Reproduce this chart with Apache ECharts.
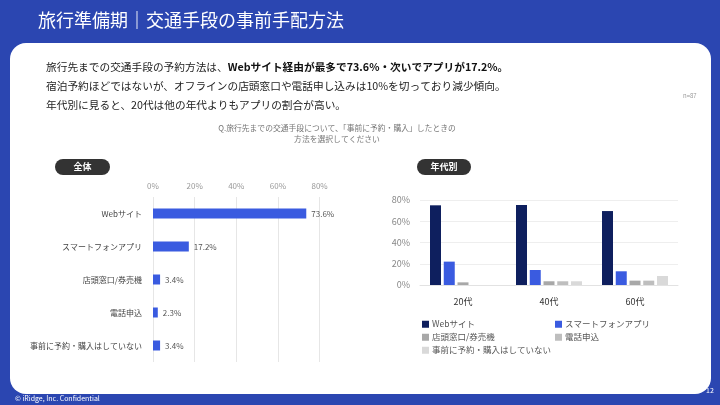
<!DOCTYPE html>
<html><head><meta charset="utf-8">
<script src="https://cdn.jsdelivr.net/npm/echarts@6/dist/echarts.min.js"></script>
<style>html,body{margin:0;padding:0;background:#2B46B1}#c{width:720px;height:405px}</style>
</head><body><div id="c"></div>
<script>
// ---- data ----
const overallCategories = ['Webサイト', 'スマートフォンアプリ', '店頭窓口/券売機', '電話申込', '事前に予約・購入はしていない'];
const overallValues = [73.6, 17.2, 3.4, 2.3, 3.4];
const overallTicks = [0, 20, 40, 60, 80];
const ageCategories = ['20代', '40代', '60代'];
const ageSeriesNames = ['Webサイト', 'スマートフォンアプリ', '店頭窓口/券売機', '電話申込', '事前に予約・購入はしていない'];
const ageWeb = [75.0, 75.3, 69.6];
const ageApp = [22.0, 14.1, 12.9];
const ageShop = [2.5, 3.5, 4.1];
const agePhone = [0, 3.5, 4.1];
const ageNone = [0, 3.5, 8.5];
const ageTicks = [0, 20, 40, 60, 80];

const FONT = '"Noto Sans CJK JP", "Noto Sans", sans-serif';
const ageColors = ['#0E1F5E', '#3A5BE0', '#A8A8A8', '#BEBEBE', '#D9D9D9'];
const ageData = [ageWeb, ageApp, ageShop, agePhone, ageNone];

const chart = echarts.init(document.getElementById('c'));

const legendPos = [[422, 320], [555, 320], [422, 333], [555, 333], [422, 346]];
const legends = ageSeriesNames.map((n, i) => ({
  data: [n], left: legendPos[i][0], top: legendPos[i][1],
  icon: 'rect', itemWidth: 7, itemHeight: 7, itemGap: 4,
  textStyle: {fontSize: 8.5, color: '#555', fontFamily: FONT, padding: [0, 0, 0, -2]},
  padding: 0, selectedMode: false
}));

const option = {
  backgroundColor: '#2B46B1',
  animation: false,
  textStyle: {fontFamily: FONT},
  graphic: [
    {type: 'rect', shape: {x: 10, y: 43, width: 701, height: 351, r: 16}, style: {fill: '#fff'}, z: -10},
    {type: 'text', left: 38, top: 11, style: {text: '旅行準備期｜交通手段の事前手配方法', fill: '#fff', font: '18px ' + FONT}},
    {type: 'text', left: 46, top: 62, style: {
      text: '{n|旅行先までの交通手段の予約方法は、}{b|Webサイト経由が最多で73.6%・次いでアプリが17.2%。}',
      rich: {n: {fontSize: 10.7, fill: '#222', fontFamily: FONT}, b: {fontSize: 10.7, fill: '#111', fontWeight: 'bold', fontFamily: FONT}}
    }},
    {type: 'text', left: 46, top: 81, style: {text: '宿泊予約ほどではないが、オフラインの店頭窓口や電話申し込みは10%を切っており減少傾向。', fill: '#222', font: '10.7px ' + FONT}},
    {type: 'text', left: 46, top: 100, style: {text: '年代別に見ると、20代は他の年代よりもアプリの割合が高い。', fill: '#222', font: '10.7px ' + FONT}},
    {type: 'text', left: 683, top: 93, style: {text: 'n=87', fill: '#999', font: '6px ' + FONT}},
    {type: 'text', x: 337, y: 123, style: {text: 'Q.旅行先までの交通手段について、「事前に予約・購入」したときの\n方法を選択してください', fill: '#777', font: '7.8px ' + FONT, align: 'center', lineHeight: 10.5}},
    {type: 'rect', shape: {x: 55, y: 159, width: 55, height: 16, r: 8}, style: {fill: '#333'}},
    {type: 'text', x: 82.5, y: 167, style: {text: '全体', fill: '#fff', font: 'bold 9px ' + FONT, align: 'center', verticalAlign: 'middle'}},
    {type: 'rect', shape: {x: 417, y: 159, width: 54, height: 16, r: 8}, style: {fill: '#333'}},
    {type: 'text', x: 444, y: 167, style: {text: '年代別', fill: '#fff', font: 'bold 9px ' + FONT, align: 'center', verticalAlign: 'middle'}},
    {type: 'text', left: 15, top: 395, style: {text: '© iRidge, Inc. Confidential', fill: '#fff', font: '7px ' + FONT}},
    {type: 'text', left: 706, top: 387, style: {text: '12', fill: '#fff', font: '7px ' + FONT}}
  ],
  legend: legends,
  grid: [
    {left: 153, top: 197, width: 166.6, height: 165},
    {left: 420, top: 200, width: 258, height: 85}
  ],
  xAxis: [
    {gridIndex: 0, type: 'value', position: 'top', min: overallTicks[0], max: overallTicks[overallTicks.length - 1], interval: 20,
     axisLabel: {formatter: '{value}%', fontSize: 8, color: '#999', margin: 7},
     axisLine: {show: false}, axisTick: {show: false},
     splitLine: {lineStyle: {color: '#E6E6E6'}}},
    {gridIndex: 1, type: 'category', data: ageCategories,
     axisLabel: {fontSize: 9, color: '#333', margin: 12},
     axisLine: {lineStyle: {color: '#E2E2E2'}}, axisTick: {show: false}}
  ],
  yAxis: [
    {gridIndex: 0, type: 'category', data: overallCategories, inverse: true,
     axisLabel: {fontSize: 8, color: '#444', margin: 11},
     axisLine: {show: false}, axisTick: {show: false}},
    {gridIndex: 1, type: 'value', min: ageTicks[0], max: ageTicks[ageTicks.length - 1], interval: 20,
     axisLabel: {formatter: '{value}%', fontSize: 9, color: '#888', margin: 10},
     axisLine: {show: false}, axisTick: {show: false},
     splitLine: {lineStyle: {color: '#EEEEEE'}}}
  ],
  series: [
    {type: 'bar', name: '全体', xAxisIndex: 0, yAxisIndex: 0, data: overallValues, barWidth: 10,
     itemStyle: {color: '#3A5BE0'},
     label: {show: true, position: 'right', formatter: '{c}%', fontSize: 8, color: '#555', distance: 5}}
  ].concat(ageSeriesNames.map((n, i) => ({
    type: 'bar', name: n, xAxisIndex: 1, yAxisIndex: 1, data: ageData[i],
    barWidth: 11, barGap: '25%', itemStyle: {color: ageColors[i]}
  })))
};
chart.setOption(option);
</script></body></html>
